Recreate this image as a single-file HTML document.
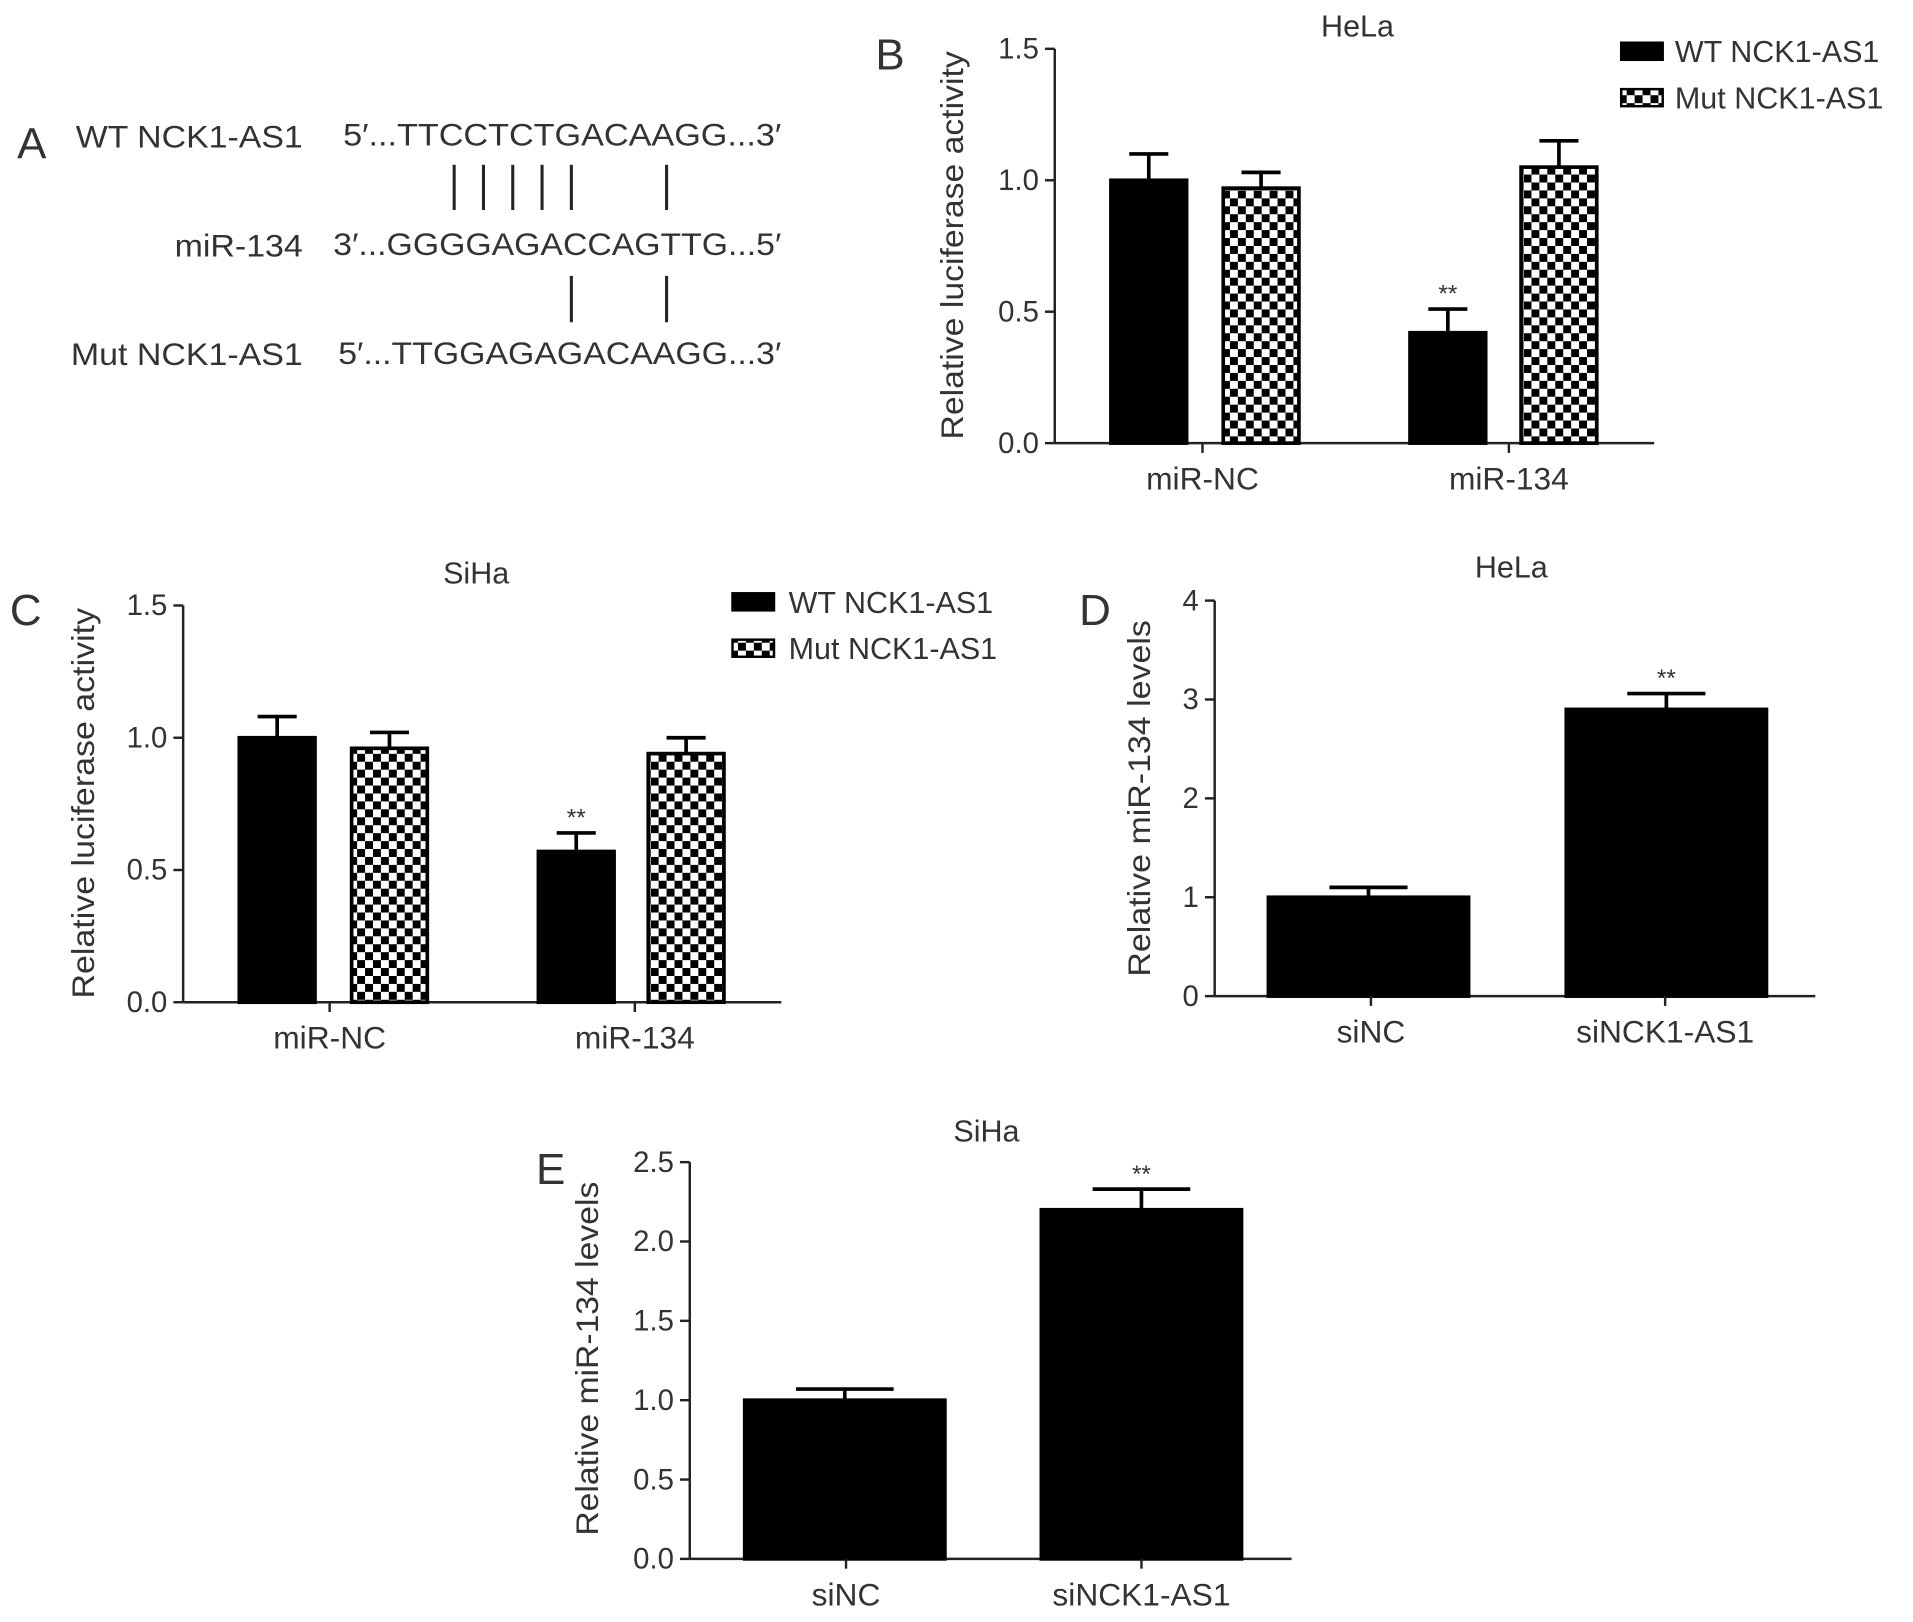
<!DOCTYPE html>
<html><head><meta charset="utf-8"><style>
html,body{margin:0;padding:0;background:#fff;}
svg{display:block;font-family:"Liberation Sans",sans-serif;}
</style></head><body>
<svg id="fig" width="1913" height="1622" viewBox="0 0 1567 1328.7" xmlns="http://www.w3.org/2000/svg">
<defs>
<pattern id="chk" width="13" height="13" patternUnits="userSpaceOnUse">
<rect width="13" height="13" fill="#fff"/>
<rect x="0" y="0" width="6.5" height="6.5" fill="#000"/>
<rect x="6.5" y="6.5" width="6.5" height="6.5" fill="#000"/>
</pattern>
</defs>
<g font-size="26" fill="#333">
<text x="14" y="130" font-size="36">A</text>
<text x="62" y="121" textLength="186" lengthAdjust="spacingAndGlyphs">WT NCK1-AS1</text>
<text x="281" y="119" textLength="359" lengthAdjust="spacingAndGlyphs">5′...TTCCTCTGACAAGG...3′</text>
<text x="143" y="210" textLength="105" lengthAdjust="spacingAndGlyphs">miR-134</text>
<text x="273" y="209" textLength="367" lengthAdjust="spacingAndGlyphs">3′...GGGGAGACCAGTTG...5′</text>
<text x="58" y="299" textLength="190" lengthAdjust="spacingAndGlyphs">Mut NCK1-AS1</text>
<text x="277" y="298" textLength="363" lengthAdjust="spacingAndGlyphs">5′...TTGGAGAGACAAGG...3′</text>
<g stroke="#222" stroke-width="2.5">
<line x1="372" y1="135" x2="372" y2="172"/><line x1="396" y1="135" x2="396" y2="172"/>
<line x1="420" y1="135" x2="420" y2="172"/><line x1="444" y1="135" x2="444" y2="172"/>
<line x1="468" y1="135" x2="468" y2="172"/><line x1="546" y1="135" x2="546" y2="172"/>
<line x1="468" y1="226" x2="468" y2="264"/><line x1="546" y1="226" x2="546" y2="264"/>
</g>
</g>
</svg>
<script>
const svgNS="http://www.w3.org/2000/svg";
const fig=document.getElementById('fig');
function el(tag,attrs,parent,txt){const e=document.createElementNS(svgNS,tag);for(const k in attrs)e.setAttribute(k,attrs[k]);if(txt!==undefined)e.textContent=txt;parent.appendChild(e);return e;}

// Data
const bCategories=["miR-NC","miR-134"];
const bWT=[1.0,0.42];const bWTerr=[0.1,0.09];
const bMut=[0.97,1.05];const bMutErr=[0.06,0.1];
const bTicks=["0.0","0.5","1.0","1.5"];
const cCategories=["miR-NC","miR-134"];
const cWT=[1.0,0.57];const cWTerr=[0.08,0.07];
const cMut=[0.96,0.94];const cMutErr=[0.06,0.06];
const cTicks=["0.0","0.5","1.0","1.5"];
const dCategories=["siNC","siNCK1-AS1"];
const dValues=[1.0,2.9];const dErr=[0.1,0.16];
const dTicks=["0","1","2","3","4"];
const eCategories=["siNC","siNCK1-AS1"];
const eValues=[1.0,2.2];const eErr=[0.07,0.13];
const eTicks=["0.0","0.5","1.0","1.5","2.0","2.5"];

function panel(cfg){
  const g=el('g',{},fig);
  
  
  const ymax=parseFloat(cfg.ticks[cfg.ticks.length-1]);
  const y=v=>cfg.y0-(v/ymax)*(cfg.y0-cfg.y1);
  const ax=el('line',{x1:cfg.x0,y1:cfg.y1,x2:cfg.x0,y2:cfg.y0,stroke:'#222','stroke-width':2},g);
  
  const xx=el('line',{x1:cfg.x0,y1:cfg.y0,x2:cfg.xEnd,y2:cfg.y0,stroke:'#222','stroke-width':2},g);
  
  cfg.ticks.forEach(t=>{
    const v=parseFloat(t);
    el('line',{x1:cfg.x0-8,y1:y(v),x2:cfg.x0,y2:y(v),stroke:'#222','stroke-width':2},g);
    const tl=el('text',{x:cfg.x0-13,y:y(v)+8,'text-anchor':'end','font-size':24,fill:'#333'},g,t);
    
  });
  cfg.series.forEach((s,si)=>{
    s.vals.forEach((v,i)=>{
      const x=cfg.barX[i][si];
      const w=cfg.bw;const top=y(v);
      const r=el('rect',{x:x,y:top,width:w,height:cfg.y0-top,fill:s.fill,stroke:'#000','stroke-width':3},g);
      
      
      const cx=x+w/2,et=y(v+s.err[i]);
      el('line',{x1:cx,y1:top,x2:cx,y2:et,stroke:'#000','stroke-width':3},g);
      el('line',{x1:cx-cfg.capW,y1:et,x2:cx+cfg.capW,y2:et,stroke:'#000','stroke-width':3},g);
      if(s.sig&&s.sig[i]){
        const st=el('text',{x:cx,y:et-6,'text-anchor':'middle','font-size':20,fill:'#333'},g,'**');
        
      }
    });
  });
  cfg.cats.forEach((c,i)=>{
    const cx=cfg.catX[i];
    el('line',{x1:cx,y1:cfg.y0,x2:cx,y2:cfg.y0+8,stroke:'#222','stroke-width':2},g);
    const t=el('text',{x:cx,y:cfg.y0+38,'text-anchor':'middle','font-size':26,fill:'#333'},g,c);
    
  });
  const tt=el('text',{x:cfg.title[1],y:cfg.title[2],'text-anchor':'middle','font-size':25,fill:'#333'},g,cfg.title[0]);
  
  const yt=el('text',{x:0,y:0,'text-anchor':'middle','font-size':26,fill:'#333',textLength:cfg.ytitle[3],lengthAdjust:'spacingAndGlyphs',transform:`translate(${cfg.ytitle[1]},${cfg.ytitle[2]}) rotate(-90)`},g,cfg.ytitle[0]);
  
  const lt=el('text',{x:cfg.letter[1],y:cfg.letter[2],'font-size':36,fill:'#333'},g,cfg.letter[0]);
  
  if(cfg.legend){
    const [lx,ly,tx]=cfg.legend;
    [['WT NCK1-AS1','#000'],['Mut NCK1-AS1','url(#chk)']].forEach((it,k)=>{
      const yy=ly+k*38;
      const r=el('rect',{x:lx,y:yy-7,width:34,height:14,fill:it[1],stroke:'#000','stroke-width':2},g);
      
      const t=el('text',{x:tx,y:yy+9,'font-size':25,fill:'#333'},g,it[0]);
      
    });
  }
}
panel({name:'panel-b',x0:864,xEnd:1355,y0:363,y1:40,ticks:bTicks,cats:bCategories,catX:[985,1236],
  bw:62,capW:16,barX:[[910,1002],[1155,1246]],
  series:[{key:'wt',vals:bWT,err:bWTerr,fill:'#000',sig:[false,true]},{key:'mut',vals:bMut,err:bMutErr,fill:'url(#chk)'}],
  title:['HeLa',1112,30],ytitle:['Relative luciferase activity',789,201,318],letter:['B',717,57],legend:[1328,42,1372]});
panel({name:'panel-c',x0:150,xEnd:640,y0:821,y1:496,ticks:cTicks,cats:cCategories,catX:[270,520],
  bw:62,capW:16,barX:[[196,288],[441,531]],
  series:[{key:'wt',vals:cWT,err:cWTerr,fill:'#000',sig:[false,true]},{key:'mut',vals:cMut,err:cMutErr,fill:'url(#chk)'}],
  title:['SiHa',390,478],ytitle:['Relative luciferase activity',77,658,320],letter:['C',8,512],legend:[600,493,646]});
panel({name:'panel-d',x0:995,xEnd:1487,y0:816,y1:492,ticks:dTicks,cats:dCategories,catX:[1123,1364],
  bw:164,capW:32,barX:[[1039],[1283]],
  series:[{key:'value',vals:dValues,err:dErr,fill:'#000',sig:[false,true]}],
  title:['HeLa',1238,473],ytitle:['Relative miR-134 levels',942,654,292],letter:['D',884,512]});
panel({name:'panel-e',x0:565,xEnd:1058,y0:1277,y1:952,ticks:eTicks,cats:eCategories,catX:[693,935],
  bw:164,capW:40,barX:[[610],[853]],
  series:[{key:'value',vals:eValues,err:eErr,fill:'#000',sig:[false,true]}],
  title:['SiHa',808,935],ytitle:['Relative miR-134 levels',490,1113,290],letter:['E',439,970]});
</script>
</body></html>
